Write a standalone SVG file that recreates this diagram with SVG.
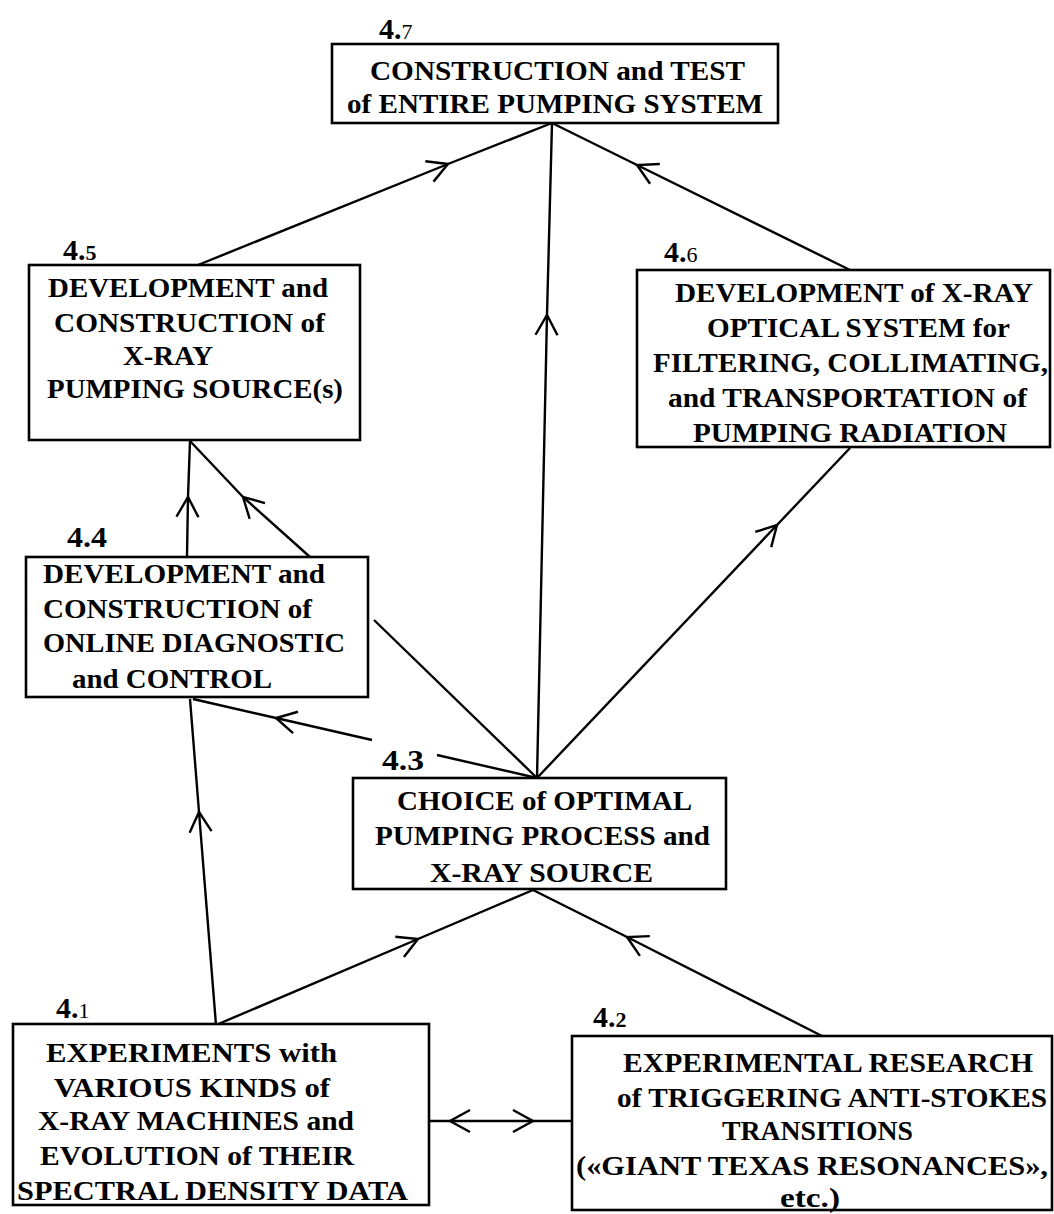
<svg xmlns="http://www.w3.org/2000/svg" width="1054" height="1214" viewBox="0 0 1054 1214">
<style>
.box{fill:#fff;stroke:#000;stroke-width:2.6}
.t{font-family:"Liberation Serif","Times New Roman",serif;font-weight:bold;font-size:28px;fill:#000}
.lbl{font-family:"Liberation Serif","Times New Roman",serif;font-weight:bold;font-size:30px;fill:#000}
.sm{font-size:22px;font-weight:normal}
.smb{font-size:22px}
.c{fill:none;stroke:#000;stroke-width:2.4}
</style>
<defs>
<marker id="chev" markerUnits="userSpaceOnUse" markerWidth="30" markerHeight="30" viewBox="-24 -15 30 30" refX="0" refY="0" orient="auto">
<path d="M-20,-11 L0,0 L-20,11" fill="none" stroke="#000" stroke-width="2.4"/>
</marker>
</defs>
<rect width="1054" height="1214" fill="#fff"/>
<g id="connectors">
<path class="c" d="M198,265 L448,164 L552,123" marker-mid="url(#chev)"/>
<path class="c" d="M850,270 L637,165 L552,123" marker-mid="url(#chev)"/>
<path class="c" d="M537,778 L547,315 L552,123" marker-mid="url(#chev)"/>
<path class="c" d="M537,778 L777,525 L850,448" marker-mid="url(#chev)"/>
<path class="c" d="M187,557 L188,497 L190,441" marker-mid="url(#chev)"/>
<path class="c" d="M537,778 L374,620"/>
<path class="c" d="M310,557 L243,497 L190,441" marker-mid="url(#chev)"/>
<path class="c" d="M537,778 L437,755"/>
<path class="c" d="M372,740 L276,718 L193,699" marker-mid="url(#chev)"/>
<path class="c" d="M216,1025 L199,812 L190,699" marker-mid="url(#chev)"/>
<path class="c" d="M216,1025 L418,939 L533,890" marker-mid="url(#chev)"/>
<path class="c" d="M822,1036 L627,937 L533,890" marker-mid="url(#chev)"/>
<path class="c" d="M490,1121 L450,1121 L429,1121" marker-mid="url(#chev)"/>
<path class="c" d="M490,1121 L533,1121 L572,1121" marker-mid="url(#chev)"/>
</g>
<g id="node47">
<rect class="box" x="332" y="44" width="446" height="79"/>
<text class="lbl" x="379" y="39">4.<tspan class="sm">7</tspan></text>
<text class="t" x="370" y="80" textLength="375" lengthAdjust="spacingAndGlyphs">CONSTRUCTION and TEST</text>
<text class="t" x="347" y="113" textLength="416" lengthAdjust="spacingAndGlyphs">of ENTIRE PUMPING SYSTEM</text>
</g>
<g id="node45">
<rect class="box" x="29" y="265" width="331" height="175"/>
<text class="lbl" x="63" y="260">4.<tspan class="smb">5</tspan></text>
<text class="t" x="48" y="297" textLength="280" lengthAdjust="spacingAndGlyphs">DEVELOPMENT and</text>
<text class="t" x="54" y="332" textLength="271" lengthAdjust="spacingAndGlyphs">CONSTRUCTION of</text>
<text class="t" x="123" y="365" textLength="90" lengthAdjust="spacingAndGlyphs">X-RAY</text>
<text class="t" x="47" y="398" textLength="296" lengthAdjust="spacingAndGlyphs">PUMPING SOURCE(s)</text>
</g>
<g id="node46">
<rect class="box" x="637" y="270" width="413" height="177"/>
<text class="lbl" x="664" y="262">4.<tspan class="sm">6</tspan></text>
<text class="t" x="675" y="302" textLength="358" lengthAdjust="spacingAndGlyphs">DEVELOPMENT of X-RAY</text>
<text class="t" x="707" y="337" textLength="303" lengthAdjust="spacingAndGlyphs">OPTICAL SYSTEM for</text>
<text class="t" x="653" y="372" textLength="395" lengthAdjust="spacingAndGlyphs">FILTERING, COLLIMATING,</text>
<text class="t" x="668" y="407" textLength="359" lengthAdjust="spacingAndGlyphs">and TRANSPORTATION of</text>
<text class="t" x="693" y="442" textLength="314" lengthAdjust="spacingAndGlyphs">PUMPING RADIATION</text>
</g>
<g id="node44">
<rect class="box" x="26" y="557" width="342" height="140"/>
<text class="lbl" x="67" y="547" textLength="40" lengthAdjust="spacingAndGlyphs">4.4</text>
<text class="t" x="43" y="583" textLength="282" lengthAdjust="spacingAndGlyphs">DEVELOPMENT and</text>
<text class="t" x="43" y="618" textLength="269" lengthAdjust="spacingAndGlyphs">CONSTRUCTION of</text>
<text class="t" x="43" y="652" textLength="302" lengthAdjust="spacingAndGlyphs">ONLINE DIAGNOSTIC</text>
<text class="t" x="72" y="688" textLength="200" lengthAdjust="spacingAndGlyphs">and CONTROL</text>
</g>
<g id="node43">
<rect class="box" x="353" y="778" width="373" height="111"/>
<text class="lbl" x="382" y="770" textLength="42" lengthAdjust="spacingAndGlyphs">4.3</text>
<text class="t" x="397" y="810" textLength="295" lengthAdjust="spacingAndGlyphs">CHOICE of OPTIMAL</text>
<text class="t" x="375" y="845" textLength="335" lengthAdjust="spacingAndGlyphs">PUMPING PROCESS and</text>
<text class="t" x="430" y="882" textLength="223" lengthAdjust="spacingAndGlyphs">X-RAY SOURCE</text>
</g>
<g id="node41">
<rect class="box" x="13" y="1024" width="416" height="181"/>
<text class="lbl" x="56" y="1018">4.<tspan class="sm">1</tspan></text>
<text class="t" x="46" y="1062" textLength="291" lengthAdjust="spacingAndGlyphs">EXPERIMENTS with</text>
<text class="t" x="54" y="1097" textLength="276" lengthAdjust="spacingAndGlyphs">VARIOUS KINDS of</text>
<text class="t" x="38" y="1130" textLength="316" lengthAdjust="spacingAndGlyphs">X-RAY MACHINES and</text>
<text class="t" x="40" y="1165" textLength="314" lengthAdjust="spacingAndGlyphs">EVOLUTION of THEIR</text>
<text class="t" x="17" y="1200" textLength="391" lengthAdjust="spacingAndGlyphs">SPECTRAL DENSITY DATA</text>
</g>
<g id="node42">
<rect class="box" x="572" y="1036" width="480" height="174"/>
<text class="lbl" x="593" y="1027">4.<tspan class="smb">2</tspan></text>
<text class="t" x="623" y="1072" textLength="410" lengthAdjust="spacingAndGlyphs">EXPERIMENTAL RESEARCH</text>
<text class="t" x="617" y="1107" textLength="430" lengthAdjust="spacingAndGlyphs">of TRIGGERING ANTI-STOKES</text>
<text class="t" x="722" y="1140" textLength="191" lengthAdjust="spacingAndGlyphs">TRANSITIONS</text>
<text class="t" x="576" y="1175" textLength="472" lengthAdjust="spacingAndGlyphs">(«GIANT TEXAS RESONANCES»,</text>
<text class="t" x="780" y="1207" textLength="60" lengthAdjust="spacingAndGlyphs">etc.)</text>
</g>
</svg>
